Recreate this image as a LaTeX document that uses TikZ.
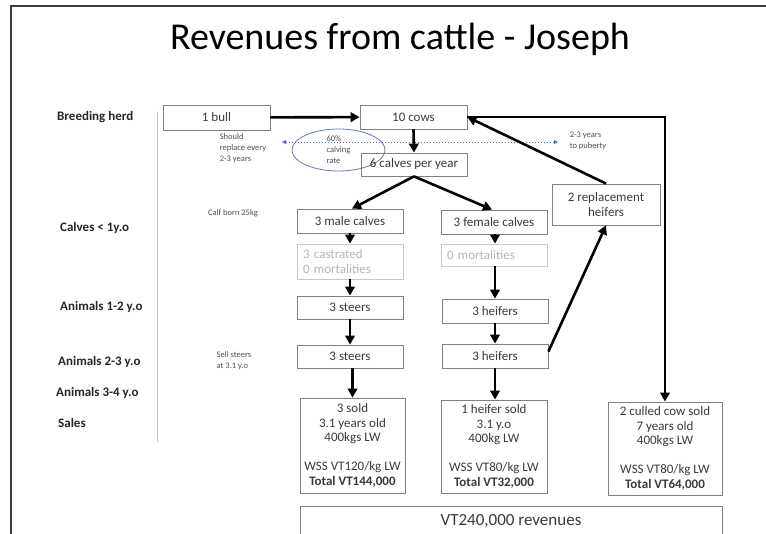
\documentclass[tikz,border=0pt]{standalone}
\usepackage{fontspec}
\setmainfont{Carlito}
\usetikzlibrary{arrows.meta,shapes.geometric}
\definecolor{framecol}{HTML}{3C3C3C}
\definecolor{boxline}{HTML}{808080}
\definecolor{boxtext}{HTML}{3A3A3A}
\definecolor{fadeline}{HTML}{C8C8C8}
\definecolor{fadetext}{HTML}{B4B4B4}
\definecolor{notetext}{HTML}{505050}
\definecolor{ageline}{HTML}{B4C4E0}
\definecolor{ringcol}{HTML}{6A78B4}
\definecolor{dotcol}{HTML}{4A74C4}
\begin{document}
\begin{tikzpicture}[x=1pt,y=-1pt,
  box/.style={draw=boxline, line width=0.8pt, inner sep=0pt, text=boxtext,
    font=\fontsize{13}{14.5}\selectfont, align=center},
  fadebox/.style={box, draw=fadeline, text=fadetext},
  agelabel/.style={anchor=west, inner sep=0pt, text=black!85,
    font=\bfseries\fontsize{13}{15}\selectfont},
  note/.style={inner sep=0pt, text=notetext, align=left,
    font=\fontsize{8.5}{11}\selectfont},
  flow/.style={line width=2.6pt, draw=black, -{Triangle[length=9pt,width=9.5pt]}},
  plain/.style={line width=2.6pt, draw=black}]
\useasboundingbox (0,0) rectangle (766,534);

% slide frame
\draw[framecol, line width=1.8pt] (11,540) -- (11,6) -- (770,6);

% title
\node[anchor=base, inner sep=0pt, font=\fontsize{38}{40}\selectfont] (title) at (400,50) {Revenues from cattle - Joseph};

% age classes
\node[agelabel] (lherd) at (57,117) {Breeding herd};
\node[agelabel] (lcalf) at (60,228) {Calves < 1y.o};
\node[agelabel] (l12) at (60,307) {Animals 1-2 y.o};
\node[agelabel] (l23) at (58,362) {Animals 2-3 y.o};
\node[agelabel] (l34) at (56,393) {Animals 3-4 y.o};
\node[agelabel] (lsales) at (58,423) {Sales};
\coordinate (sepTop) at (157,112);
\coordinate (sepBot) at (157,442);
\draw[ageline, line width=1pt] (sepTop) -- (sepBot);

% breeding herd
\node[box, minimum width=107, minimum height=25] (bull) at (216.5,117.5) {1 bull};
\node[box, minimum width=107, minimum height=24] (cows) at (413.5,117) {10 cows};
\node[note] (replace) at (243,148) {Should\\replace every\\2-3 years};
\node[note] (puberty) at (588,140.5) {2-3 years\\to puberty};
\node[draw=ringcol, line width=0.8pt, ellipse, inner sep=0pt, minimum width=93, minimum height=42,
      text=notetext, align=left, font=\fontsize{8.5}{11}\selectfont] (ring) at (338.5,150) {60\%\\calving\\rate};
\coordinate (dotL) at (282,142);
\coordinate (dotR) at (558,142);
\draw[dotcol, line width=0.8pt, dash pattern=on 1.5pt off 1.5pt,
      {Triangle[length=4pt,width=4pt]}-{Triangle[length=4pt,width=4pt]}] (dotL) -- (dotR);
\node[box, minimum width=106, minimum height=23] (calves) at (414,164.5) {6 calves per year};

% calves
\node[note] (born) at (233,213) {Calf born 25kg};
\node[box, minimum width=106, minimum height=24] (male) at (350,221) {3 male calves};
\node[box, minimum width=106, minimum height=24] (female) at (494,222) {3 female calves};
\node[fadebox, minimum width=106, minimum height=35, text width=94, align=left] (castr) at (350,261.5) {3 castrated\\0 mortalities};
\node[fadebox, minimum width=106, minimum height=22, text width=94, align=left] (mort) at (494,255) {0 mortalities};
\node[box, minimum width=108, minimum height=41] (repl) at (606,204.5) {2 replacement\\heifers};

% older animals
\node[box, minimum width=106, minimum height=23] (steers1) at (350,307.5) {3 steers};
\node[box, minimum width=106, minimum height=24] (heifers1) at (495,311) {3 heifers};
\node[note] (sell) at (234,361) {Sell steers\\at 3.1 y.o};
\node[box, minimum width=106, minimum height=23] (steers2) at (350,356.5) {3 steers};
\node[box, minimum width=106, minimum height=24] (heifers2) at (495,356) {3 heifers};

% sales
\node[box, minimum width=105, minimum height=95] (sold1) at (352.5,445.5)
  {3 sold\\3.1 years old\\400kgs LW\\[14.5pt]WSS VT120/kg LW\\\textbf{Total VT144,000}};
\node[box, minimum width=106, minimum height=93] (sold2) at (494,446.5)
  {1 heifer sold\\3.1 y.o\\400kg LW\\[14.5pt]WSS VT80/kg LW\\\textbf{Total VT32,000}};
\node[box, minimum width=114, minimum height=93] (sold3) at (665,448.5)
  {2 culled cow sold\\7 years old\\400kgs LW\\[14.5pt]WSS VT80/kg LW\\\textbf{Total VT64,000}};
\node[box, minimum width=422, minimum height=30, font=\fontsize{17}{19}\selectfont] (rev) at (511,521) {VT240,000 revenues};

% flows
\draw[flow] (bull) -- (cows);
\draw[flow] (cows.south) -- (calves.north);
\draw[flow] (calves.south) -- ([xshift=2pt]male.north);
\draw[flow] (calves.south) -- ([xshift=-2pt]female.north);
\draw[flow] (male) -- (castr);
\draw[flow] (castr) -- (steers1);
\draw[flow] (steers1) -- (steers2);
\draw[flow] ([xshift=2.5pt]steers2.south) -- ([xshift=2.5pt]steers2.south |- sold1.north);
\draw[flow] ([xshift=1pt]female.south) -- ([xshift=1pt]female.south |- mort.north);
\draw[flow] (mort.south -| heifers1.north) -- (heifers1.north);
\draw[flow] (heifers1) -- (heifers2);
\draw[flow] (heifers2.south) -- (heifers2.south |- sold2.north);
\draw[flow] ([yshift=-8pt]heifers2.north east) -- (repl.south);
\draw[flow] (repl.north) -- (cows.east);
\draw[flow] (cows.east) -| (sold3.north);
\end{tikzpicture}
\end{document}
